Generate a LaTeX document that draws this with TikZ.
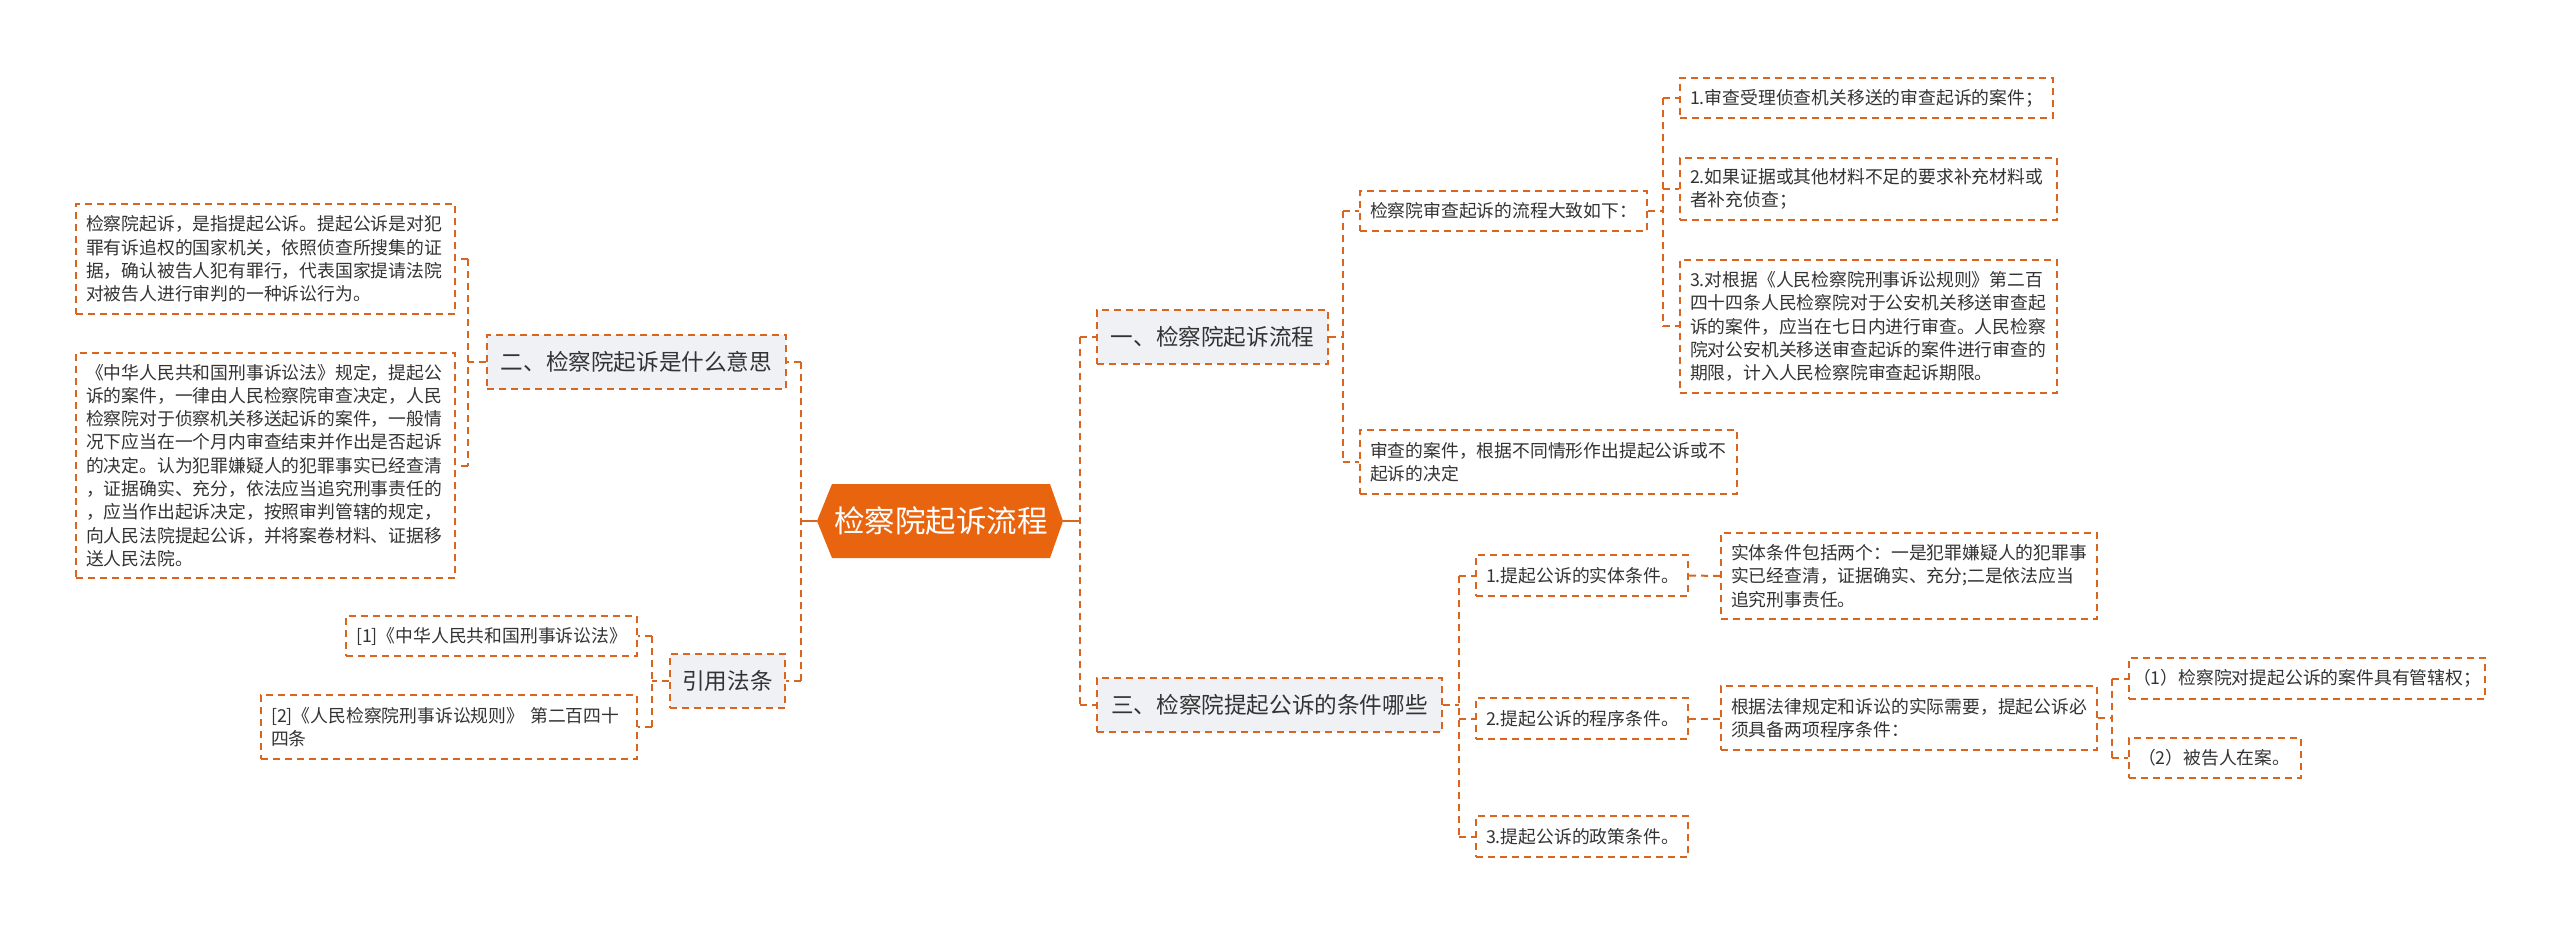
\documentclass[tikz,border=0pt]{standalone}
\usepackage{fontspec}
\setmainfont{Noto Sans CJK SC}
\usetikzlibrary{calc}
\definecolor{ora}{RGB}{216,102,32}
\definecolor{rootc}{RGB}{233,100,14}
\definecolor{lvl}{RGB}{239,241,245}
\definecolor{txt}{RGB}{51,51,51}
\begin{document}
\begin{tikzpicture}[x=1pt,y=-1pt,
 box/.style={draw=ora, line width=2pt, dash pattern=on 7pt off 5pt, anchor=north west, inner ysep=0pt, text=txt},
 leaf/.style={box, inner xsep=10pt, align=left, font=\fontsize{17.8}{23.3}\selectfont},
 topic/.style={box, fill=lvl, minimum height=54pt, align=center, inner xsep=0pt, font=\fontsize{22.6}{27}\selectfont},
 conn/.style={draw=ora, line width=2pt, dash pattern=on 7pt off 5pt},
 link/.style={draw=ora, line width=2pt}]
\fill[white] (0,0) rectangle (2560,933);
\useasboundingbox (0,0) rectangle (2560,933);

% root
\fill[rootc] (832,484) -- (1050,484) -- (1063,521) -- (1050,558) -- (832,558) -- (817,521) -- cycle;
\node[text=white, inner sep=0pt, font=\fontsize{30.5}{36}\selectfont] (root) at (941,521) {检察院起诉流程};
\coordinate (rootW) at (817,521);
\coordinate (rootE) at (1063,521);

% trunk x positions
\coordinate (vL) at (801,0);
\coordinate (vR) at (1080,0);
\coordinate (vA) at (468,0);
\coordinate (vRef) at (652,0);
\coordinate (v1) at (1343,0);
\coordinate (vB) at (1663,0);
\coordinate (v3) at (1459,0);
\coordinate (vE) at (2112,0);

% level 1
\node[topic, minimum width=299pt] (n2) at (486,334) {二、检察院起诉是什么意思};
\node[topic, minimum width=115pt] (nref) at (669,653) {引用法条};
\node[topic, minimum width=231pt] (n1) at (1096,309) {一、检察院起诉流程};
\node[topic, minimum width=345pt] (n3) at (1096,677) {三、检察院提起公诉的条件哪些};

% left leaves
\node[leaf, text width=359pt, minimum height=110pt] (a1) at (75,203) {检察院起诉，是指提起公诉。提起公诉是对犯\\罪有诉追权的国家机关，依照侦查所搜集的证\\据，确认被告人犯有罪行，代表国家提请法院\\对被告人进行审判的一种诉讼行为。};
\node[leaf, text width=359pt, minimum height=225pt] (a2) at (75,352) {《中华人民共和国刑事诉讼法》规定，提起公\\诉的案件，一律由人民检察院审查决定，人民\\检察院对于侦察机关移送起诉的案件，一般情\\况下应当在一个月内审查结束并作出是否起诉\\的决定。认为犯罪嫌疑人的犯罪事实已经查清\\，证据确实、充分，依法应当追究刑事责任的\\，应当作出起诉决定，按照审判管辖的规定，\\向人民法院提起公诉，并将案卷材料、证据移\\送人民法院。};
\node[leaf, text width=271pt, minimum height=40pt] (r1) at (345,615) {[1]《中华人民共和国刑事诉讼法》};
\node[leaf, text width=356pt, minimum height=64pt] (r2) at (260,694) {[2]《人民检察院刑事诉讼规则》 第二百四十\\四条};

% right leaves
\node[leaf, text width=267pt, minimum height=40pt] (b1) at (1359,190) {检察院审查起诉的流程大致如下：};
\node[leaf, text width=357pt, minimum height=64pt] (b2) at (1359,429) {审查的案件，根据不同情形作出提起公诉或不\\起诉的决定};
\node[leaf, text width=353pt, minimum height=40pt] (c1) at (1679,77) {1.审查受理侦查机关移送的审查起诉的案件；};
\node[leaf, text width=357pt, minimum height=62pt] (c2) at (1679,157) {2.如果证据或其他材料不足的要求补充材料或\\者补充侦查；};
\node[leaf, text width=357pt, minimum height=133pt] (c3) at (1679,259) {3.对根据《人民检察院刑事诉讼规则》第二百\\四十四条人民检察院对于公安机关移送审查起\\诉的案件，应当在七日内进行审查。人民检察\\院对公安机关移送审查起诉的案件进行审查的\\期限，计入人民检察院审查起诉期限。};
\node[leaf, text width=192pt, minimum height=41pt] (d1) at (1475,554) {1.提起公诉的实体条件。};
\node[leaf, text width=192pt, minimum height=41pt] (d2) at (1475,697) {2.提起公诉的程序条件。};
\node[leaf, text width=192pt, minimum height=41pt] (d3) at (1475,815) {3.提起公诉的政策条件。};
\node[leaf, text width=356pt, minimum height=86pt] (e1) at (1720,532) {实体条件包括两个：一是犯罪嫌疑人的犯罪事\\实已经查清，证据确实、充分;二是依法应当\\追究刑事责任。};
\node[leaf, text width=356pt, minimum height=64pt] (e2) at (1720,685) {根据法律规定和诉讼的实际需要，提起公诉必\\须具备两项程序条件：};
\node[leaf, inner xsep=4pt, text width=348pt, minimum height=41pt] (f1) at (2128,657) {（1）检察院对提起公诉的案件具有管辖权；};
\node[leaf, inner xsep=9pt, text width=154pt, minimum height=40pt] (f2) at (2128,737) {（2）被告人在案。};

% root links
\draw[link] (rootW) -- (rootW -| vL);
\draw[link] (rootE) -- (rootE -| vR);

% left trunk
\draw[conn] (vL |- n2.east) -- (vL |- nref.east);
\draw[conn] (vL |- n2.east) -- (n2.east);
\draw[conn] (vL |- nref.east) -- (nref.east);

% n2 children
\draw[conn] (n2.west) -- (vA |- n2.west);
\draw[conn] (vA |- a1.east) -- (vA |- a2.east);
\draw[conn] (vA |- a1.east) -- (a1.east);
\draw[conn] (vA |- a2.east) -- (a2.east);

% ref children
\draw[conn] (nref.west) -- (vRef |- nref.west);
\draw[conn] (vRef |- r1.east) -- (vRef |- r2.east);
\draw[conn] (vRef |- r1.east) -- (r1.east);
\draw[conn] (vRef |- r2.east) -- (r2.east);

% right trunk
\draw[conn] (vR |- n1.west) -- (vR |- n3.west);
\draw[conn] (vR |- n1.west) -- (n1.west);
\draw[conn] (vR |- n3.west) -- (n3.west);

% n1 children
\draw[conn] (n1.east) -- (v1 |- n1.east);
\draw[conn] (v1 |- b1.west) -- (v1 |- b2.west);
\draw[conn] (v1 |- b1.west) -- (b1.west);
\draw[conn] (v1 |- b2.west) -- (b2.west);

% b1 children
\draw[conn] (b1.east) -- (vB |- b1.east);
\draw[conn] (vB |- c1.west) -- (vB |- c3.west);
\draw[conn] (vB |- c1.west) -- (c1.west);
\draw[conn] (vB |- c2.west) -- (c2.west);
\draw[conn] (vB |- c3.west) -- (c3.west);

% n3 children
\draw[conn] (n3.east) -- (v3 |- n3.east);
\draw[conn] (v3 |- d1.west) -- (v3 |- d3.west);
\draw[conn] (v3 |- d1.west) -- (d1.west);
\draw[conn] (v3 |- d2.west) -- (d2.west);
\draw[conn] (v3 |- d3.west) -- (d3.west);

% d children
\draw[conn] (d1.east) -- (e1.west);
\draw[conn] (d2.east) -- (d2.east -| e2.west);

% e2 children
\draw[conn] (e2.east) -- (vE |- e2.east);
\draw[conn] (vE |- f1.west) -- (vE |- f2.west);
\draw[conn] (vE |- f1.west) -- (f1.west);
\draw[conn] (vE |- f2.west) -- (f2.west);
\end{tikzpicture}
\end{document}
